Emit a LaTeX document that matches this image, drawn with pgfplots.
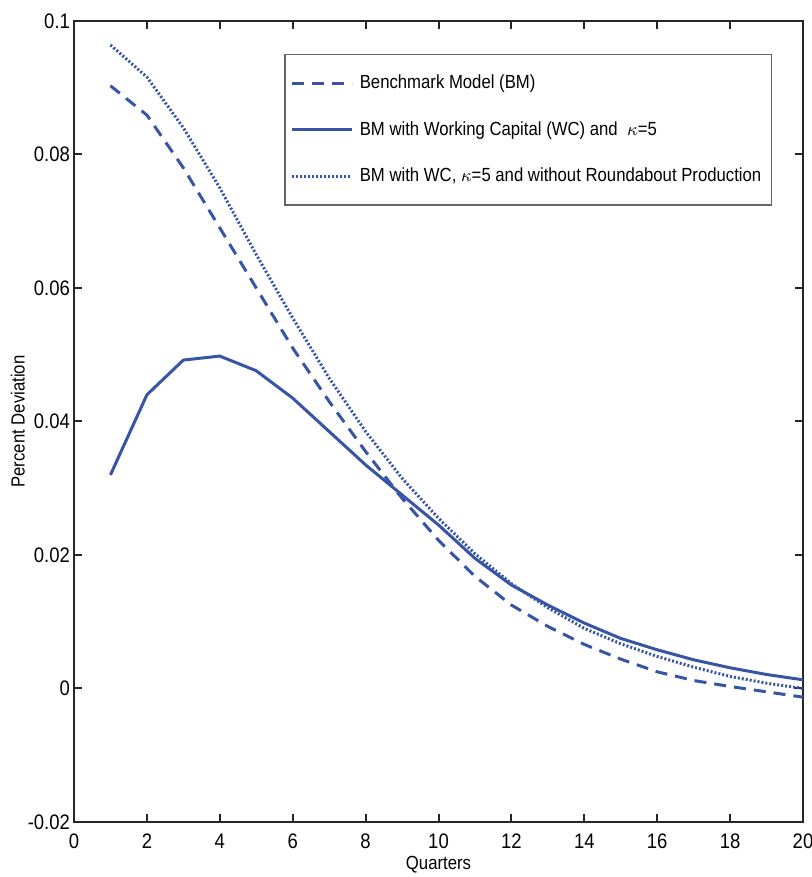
\documentclass[border=0pt]{standalone}
\usepackage{fontspec}
\setmainfont{Liberation Sans}[FakeStretch=0.88]
\usepackage{pgfplots}
\pgfplotsset{compat=1.18}
\definecolor{lineblue}{RGB}{55,84,165}
\begin{document}
\begin{tikzpicture}
\begin{axis}[
  scale only axis,
  width=364.5pt, height=400.5pt,
  xmin=0, xmax=20, ymin=-0.02, ymax=0.1,
  xtick={0,2,...,20},
  ytick={-0.02,0,0.02,0.04,0.06,0.08,0.1},
  yticklabels={-0.02,0,0.02,0.04,0.06,0.08,0.1},
  tick align=inside,
  major tick length=4pt,
  axis line style={line width=1pt, black!85},
  every tick/.style={line width=1pt, black!85},
  tick label style={font=\fontsize{10.5}{12}\selectfont},
  /pgf/number format/assume math mode=true,
  xticklabel style={yshift=-2.5pt},
  yticklabel style={xshift=1.5pt},
  label style={font=\fontsize{9.5}{11}\selectfont},
  xlabel={Quarters},
  ylabel={Percent Deviation},
  xlabel style={at={(axis description cs:0.5,-0.0537)}, anchor=center},
  ylabel style={at={(axis description cs:-0.077,0.5)}, rotate=0, anchor=center},
  legend cell align=left,
  legend style={
    at={(1,1)}, anchor=north east, xshift=-15.5pt, yshift=-16.5pt,
    draw=black!60, line width=0.7pt,
    font=\fontsize{9.5}{11.5}\selectfont,
    inner xsep=3pt, inner ysep=8pt,
    row sep=11pt,
    nodes={inner sep=2pt},
    /tikz/every odd column/.append style={column sep=1pt},
  },
  legend image code/.code={\draw[#1] (0pt,0pt) -- (30pt,0pt);},
]
\addplot[lineblue, line width=1.5pt, dash pattern=on 6pt off 4pt] coordinates {
 (1,0.0903) (2,0.0859) (3,0.0780) (4,0.0690) (5,0.0600) (6,0.0510)
 (7,0.0430) (8,0.0355) (9,0.0285) (10,0.0222) (11,0.0168) (12,0.0125)
 (13,0.0093) (14,0.0066) (15,0.0044) (16,0.0025) (17,0.0012) (18,0.0003)
 (19,-0.0005) (20,-0.0013)
};
\addlegendentry{Benchmark Model (BM)}
\addplot[lineblue, line width=1.5pt] coordinates {
 (1,0.0320) (2,0.0440) (3,0.0492) (4,0.0498) (5,0.0476) (6,0.0435)
 (7,0.0385) (8,0.0335) (9,0.0290) (10,0.0245) (11,0.0195) (12,0.0155)
 (13,0.0125) (14,0.0098) (15,0.0075) (16,0.0058) (17,0.0043) (18,0.0031)
 (19,0.0021) (20,0.0013)
};
\addlegendentry{BM with Working Capital (WC) and \ $\kappa$=5}
\addplot[lineblue, line width=1.5pt, dash pattern=on 1pt off 1pt] coordinates {
 (1,0.0964) (2,0.0916) (3,0.0840) (4,0.0750) (5,0.0650) (6,0.0555)
 (7,0.0465) (8,0.0385) (9,0.0315) (10,0.0255) (11,0.0202) (12,0.0157)
 (13,0.0121) (14,0.0090) (15,0.0067) (16,0.0048) (17,0.0032) (18,0.0018)
 (19,0.0008) (20,0.0000)
};
\addlegendentry{BM with WC, $\kappa$=5 and without Roundabout Production}
\end{axis}
\pgfresetboundingbox
\path ([shift={(-37pt,-27.5pt)}]current axis.south west) rectangle ([shift={(4.5pt,10.5pt)}]current axis.north east);
\end{tikzpicture}
\end{document}
